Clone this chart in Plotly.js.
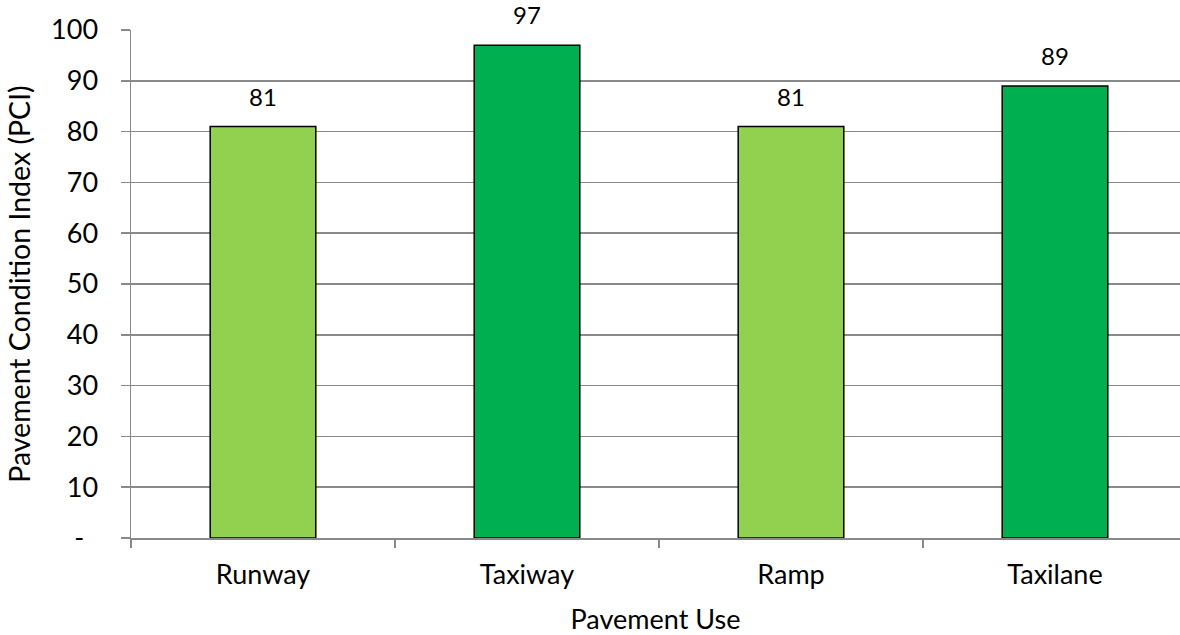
<!DOCTYPE html>
<html>
<head>
<meta charset="utf-8">
<script src="https://cdn.plot.ly/plotly-3.0.1.min.js"></script>
<style>html,body{margin:0;padding:0;background:#fff;} #chart{width:1180px;height:635px;}</style>
</head>
<body>
<div id="chart"></div>
<script>
const categories = ["Runway", "Taxiway", "Ramp", "Taxilane"];
const pciValues = [81, 97, 81, 89];
const barColors = ["#92D050", "#00B050", "#92D050", "#00B050"];
const yTickValues = [0, 10, 20, 30, 40, 50, 60, 70, 80, 90, 100];
const yTickLabels = ["-\u00a0\u00a0", "10", "20", "30", "40", "50", "60", "70", "80", "90", "100"];

const FONT = "Lato, 'Open Sans', sans-serif";

const trace = {
  type: "bar",
  x: categories,
  y: pciValues,
  width: 0.4,
  marker: { color: barColors, line: { color: "#000000", width: 1.5 } },
  hoverinfo: "skip"
};

const annotations = categories.map((c, i) => ({
  x: c, y: pciValues[i], xref: "x", yref: "y",
  text: String(pciValues[i]), showarrow: false,
  yanchor: "bottom", yshift: 14,
  font: { family: FONT, size: 24, color: "#000" }
}));

const layout = {
  width: 1180, height: 635,
  margin: { l: 131, r: 0, t: 30, b: 96.5, pad: 0 },
  paper_bgcolor: "#fff", plot_bgcolor: "#fff",
  showlegend: false,
  bargap: 0.6,
  xaxis: {
    type: "category",
    range: [-0.5, 3.4735],
    tickson: "boundaries",
    ticks: "outside", ticklen: 8, tickwidth: 1.5, tickcolor: "#898989",
    showline: true, linecolor: "#898989", linewidth: 1.5,
    showgrid: false, zeroline: false,
    tickfont: { family: FONT, size: 27, color: "#000" },
    ticklabelstandoff: 12,
    title: { text: "Pavement Use", font: { family: FONT, size: 27, color: "#000" }, standoff: 22 }
  },
  yaxis: {
    range: [0, 100],
    tickvals: yTickValues, ticktext: yTickLabels,
    ticks: "outside", ticklen: 9, tickwidth: 1.5, tickcolor: "#898989",
    showline: true, linecolor: "#898989", linewidth: 1.5,
    showgrid: true, gridcolor: "#898989", gridwidth: 1.5,
    zeroline: false,
    tickfont: { family: FONT, size: 27, color: "#000" },
    ticklabelstandoff: 17,
    title: { text: "Pavement Condition Index (PCI)", font: { family: FONT, size: 28.5, color: "#000" }, standoff: 12 }
  },
  annotations: annotations
};

Plotly.newPlot("chart", [trace], layout, { displayModeBar: false, staticPlot: true });
</script>
</body>
</html>
